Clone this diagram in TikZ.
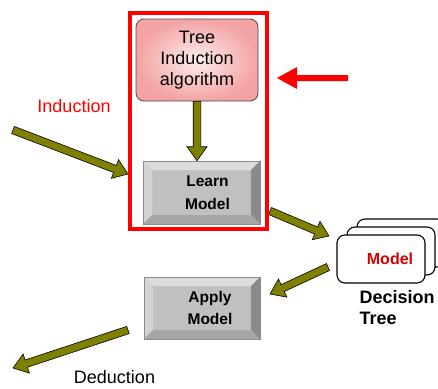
\documentclass[tikz,border=0pt]{standalone}
\usepackage{fontspec}
\setmainfont{Liberation Sans}
\usetikzlibrary{calc}

\definecolor{olivefill}{HTML}{808000}
\definecolor{pinkout}{HTML}{F3A3A3}
\definecolor{pinkin}{HTML}{FDEDED}
\definecolor{bevface}{HTML}{C0C0C0}
\definecolor{bevtop}{HTML}{DCDCDC}
\definecolor{bevleft}{HTML}{D4D4D4}
\definecolor{bevright}{HTML}{8A8A8A}
\definecolor{bevbottom}{HTML}{A6A6A6}
\definecolor{bevedge}{HTML}{8C8C8C}

% block arrow from #2 to #3 (shaft half width, head length, head half width)
\newcommand\bashaft{3.8pt}
\newcommand\bahead{14pt}
\newcommand\bawing{10pt}
\newcommand\blockarrow[3][]{%
  \coordinate (ba-c) at ($(#3)!\bahead!(#2)$);
  \draw[blockarrowstyle,#1]
    ($(#2)!\bashaft!90:(#3)$) -- ($(ba-c)!\bashaft!90:(#3)$) --
    ($(ba-c)!\bawing!90:(#3)$) -- (#3) --
    ($(ba-c)!\bawing!-90:(#3)$) -- ($(ba-c)!\bashaft!-90:(#3)$) --
    ($(#2)!\bashaft!-90:(#3)$) -- cycle;}

\newcommand\bv{9pt}

\tikzset{
  blockarrowstyle/.style={fill=olivefill, draw=black, line width=0.6pt, line join=miter},
  algobox/.style={rectangle, rounded corners=8pt, draw=black!70, line width=0.8pt,
    inner color=pinkin, outer color=pinkout, minimum width=122pt, minimum height=82pt,
    align=center, font=\fontsize{18}{21}\selectfont},
  bevelbox/.style={rectangle, inner sep=0pt, fill=bevface, draw=bevedge, line width=0.5pt,
    minimum width=117pt, minimum height=63pt,
    path picture={
      \fill[bevtop] (path picture bounding box.north west) -- (path picture bounding box.north east)
        -- ([shift={(-\bv,-\bv)}]path picture bounding box.north east)
        -- ([shift={(\bv,-\bv)}]path picture bounding box.north west) -- cycle;
      \fill[bevleft] (path picture bounding box.north west) -- (path picture bounding box.south west)
        -- ([shift={(\bv,\bv)}]path picture bounding box.south west)
        -- ([shift={(\bv,-\bv)}]path picture bounding box.north west) -- cycle;
      \fill[bevright] (path picture bounding box.north east) -- (path picture bounding box.south east)
        -- ([shift={(-\bv,\bv)}]path picture bounding box.south east)
        -- ([shift={(-\bv,-\bv)}]path picture bounding box.north east) -- cycle;
      \fill[bevbottom] (path picture bounding box.south west) -- (path picture bounding box.south east)
        -- ([shift={(-\bv,\bv)}]path picture bounding box.south east)
        -- ([shift={(\bv,\bv)}]path picture bounding box.south west) -- cycle;
    }},
  boxtext/.style={align=center, font=\bfseries\fontsize{15.5}{22.5}\selectfont},
  card/.style={rectangle, rounded corners=8pt, draw=black, line width=1.1pt, fill=white,
    minimum width=88pt, minimum height=48pt},
  bigtext/.style={font=\fontsize{18}{21}\selectfont},
}

\begin{document}
\begin{tikzpicture}[x=1pt, y=-1pt]
  \useasboundingbox (0,0) rectangle (438,388);

  % induction side
  \node[algobox] (algo) at (197,60) {Tree\\Induction\\algorithm};
  \node[bevelbox] (learn) at (201.5,192.5) {};
  \node[boxtext] (learntext) at ([xshift=6pt]learn.center) {Learn\\Model};
  \blockarrow{algo.south}{algo.south |- learn.north}

  % stacked model cards
  \node[card] (card3) at (401,243) {};
  \node[card] (card2) at (391,251) {};
  \node[card] (card1) at (381,259) {};
  \node[font=\bfseries\fontsize{16}{19}\selectfont, text=red!85!black] (modeltext)
    at ([xshift=9pt]card1.center) {Model};
  \node[bigtext, font=\bfseries\fontsize{18}{21}\selectfont, anchor=west, align=left]
    (dtree) at (356,307.5) {Decision\\Tree};

  % deduction side
  \node[bevelbox, minimum width=116pt, minimum height=62pt] (apply) at (202,308) {};
  \node[boxtext] (applytext) at ([xshift=8pt]apply.center) {Apply\\Model};

  % free ends of the flow arrows
  \coordinate (indtail) at (13,130);
  \coordinate (indtip) at (128,174);
  \coordinate (lmtail) at (270,211);
  \coordinate (lmtip) at (329,236);
  \coordinate (matail) at (328,267);
  \coordinate (matip) at (270,294);
  \coordinate (dedtail) at (128,330);
  \coordinate (dedtip) at (13,368);

  \blockarrow{indtail}{indtip}
  \blockarrow{lmtail}{lmtip}
  \blockarrow{matail}{matip}
  \blockarrow{dedtail}{dedtip}

  \node[bigtext, text=red] (induction) at (74,106) {Induction};
  \node[bigtext] (deduction) at (114.5,377) {Deduction};

  % highlight frame and pointer
  \node[draw=red, line width=3.6pt, minimum width=137pt, minimum height=216pt, inner sep=0pt]
    (frame) at (198.5,121) {};
  \coordinate (pttail) at (348,78);
  \coordinate (pttip) at (277,78);
  \renewcommand\bashaft{3pt}\renewcommand\bahead{20pt}\renewcommand\bawing{11pt}
  \blockarrow[fill=red, draw=none]{pttail}{pttip}
\end{tikzpicture}
\end{document}
